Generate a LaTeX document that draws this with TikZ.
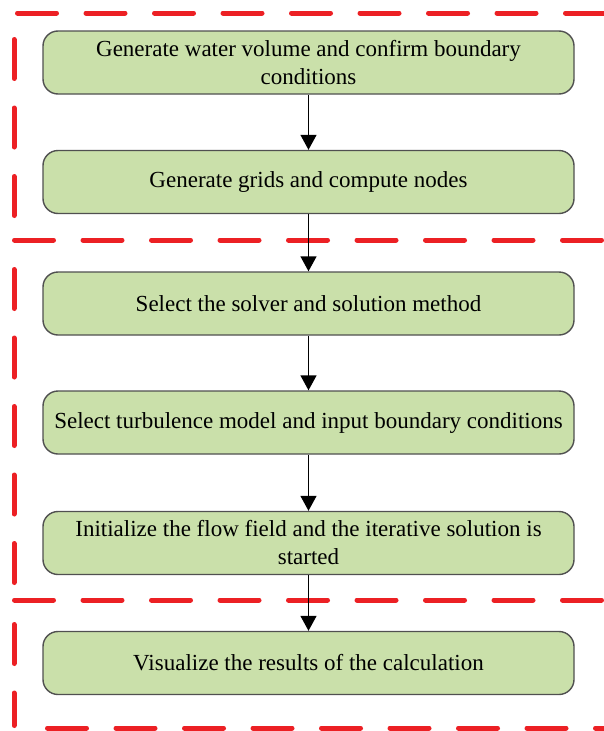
\documentclass[tikz,border=0pt]{standalone}
\usepackage{fontspec}
\setmainfont{Liberation Serif}
\usetikzlibrary{arrows.meta}
\definecolor{boxgreen}{RGB}{202,224,170}
\definecolor{boxedge}{RGB}{80,80,80}
\definecolor{dashred}{RGB}{236,32,36}
\tikzset{
  stepbox/.style={draw=boxedge, line width=1.4pt, fill=boxgreen, rounded corners=15pt,
    minimum width=531pt, minimum height=63pt, inner sep=0pt, align=center,
    font=\fontsize{23}{28}\selectfont},
  reddash/.style={draw=dashred, line width=5pt, line cap=round, dash pattern=on 39pt off 29.5pt},
  flow/.style={draw=black, line width=1.4pt, -{Triangle[width=16pt,length=15pt]}}
}
\begin{document}
\begin{tikzpicture}[x=1pt,y=-1pt]
\useasboundingbox (0,0) rectangle (603,731);
% red dashed frames
\draw[reddash] (17.5,13) -- (620,13);
\draw[reddash] (14.5,240) -- (620,240);
\draw[reddash] (14.5,600) -- (620,600);
\draw[reddash] (47.5,728) -- (620,728);
\draw[reddash] (14,39.5) -- (14,236);
\draw[reddash] (14,269.5) -- (14,597);
\draw[reddash] (14,624.5) -- (14,725.5);
% boxes
\node[stepbox] (b1) at (308.5,62.5) {Generate water volume and confirm boundary\\conditions};
\node[stepbox] (b2) at (308.5,182) {Generate grids and compute nodes};
\node[stepbox] (b3) at (308.5,303.5) {Select the solver and solution method};
\node[stepbox] (b4) at (308.5,422.5) {Select turbulence model and input boundary conditions};
\node[stepbox] (b5) at (308.5,543) {Initialize the flow field and the iterative solution is\\started};
\node[stepbox] (b6) at (308.5,663) {Visualize the results of the calculation};
% arrows
\draw[flow] (b1) -- (b2);
\draw[flow] (b2) -- (b3);
\draw[flow] (b3) -- (b4);
\draw[flow] (b4) -- (b5);
\draw[flow] (b5) -- (b6);
\end{tikzpicture}
\end{document}
